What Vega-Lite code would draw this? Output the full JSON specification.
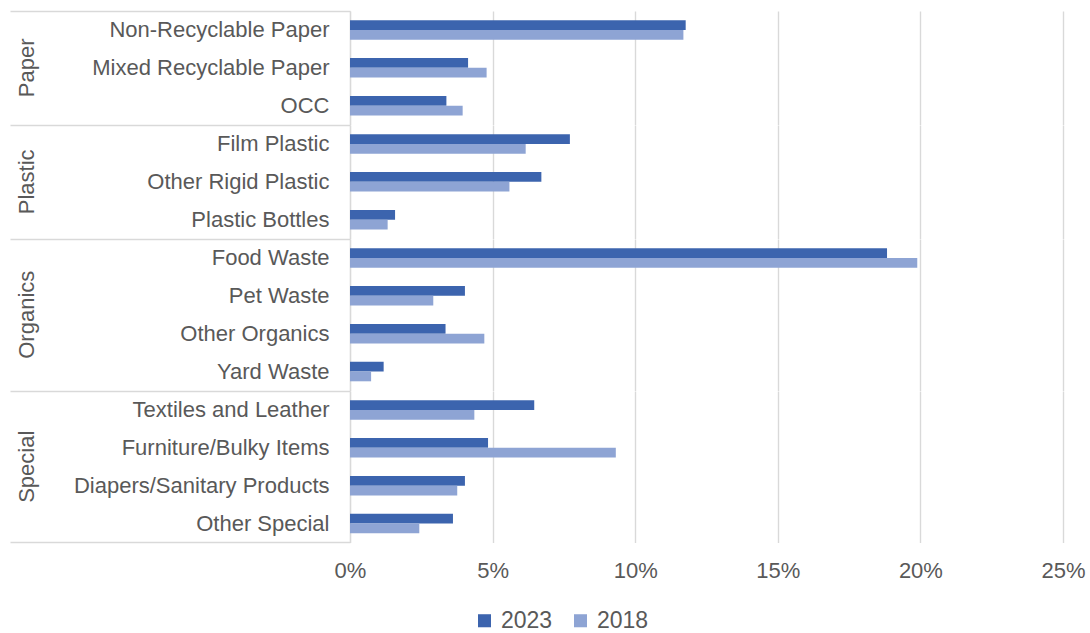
{
  "$schema": "https://vega.github.io/schema/vega-lite/v6.json",
  "padding": {"left": 9, "top": 0, "right": 5, "bottom": 5},
  "background": "white",
  "config": {"view": {"stroke": null}, "font": "Liberation Sans"},
  "data": {"values": [
    {"group": "Paper", "category": "Non-Recyclable Paper", "year": "2023", "value": 11.77},
    {"group": "Paper", "category": "Non-Recyclable Paper", "year": "2018", "value": 11.69},
    {"group": "Paper", "category": "Mixed Recyclable Paper", "year": "2023", "value": 4.14},
    {"group": "Paper", "category": "Mixed Recyclable Paper", "year": "2018", "value": 4.79},
    {"group": "Paper", "category": "OCC", "year": "2023", "value": 3.38},
    {"group": "Paper", "category": "OCC", "year": "2018", "value": 3.95},
    {"group": "Plastic", "category": "Film Plastic", "year": "2023", "value": 7.71},
    {"group": "Plastic", "category": "Film Plastic", "year": "2018", "value": 6.16},
    {"group": "Plastic", "category": "Other Rigid Plastic", "year": "2023", "value": 6.71},
    {"group": "Plastic", "category": "Other Rigid Plastic", "year": "2018", "value": 5.59},
    {"group": "Plastic", "category": "Plastic Bottles", "year": "2023", "value": 1.58},
    {"group": "Plastic", "category": "Plastic Bottles", "year": "2018", "value": 1.32},
    {"group": "Organics", "category": "Food Waste", "year": "2023", "value": 18.83},
    {"group": "Organics", "category": "Food Waste", "year": "2018", "value": 19.89},
    {"group": "Organics", "category": "Pet Waste", "year": "2023", "value": 4.03},
    {"group": "Organics", "category": "Pet Waste", "year": "2018", "value": 2.92},
    {"group": "Organics", "category": "Other Organics", "year": "2023", "value": 3.35},
    {"group": "Organics", "category": "Other Organics", "year": "2018", "value": 4.71},
    {"group": "Organics", "category": "Yard Waste", "year": "2023", "value": 1.18},
    {"group": "Organics", "category": "Yard Waste", "year": "2018", "value": 0.74},
    {"group": "Special", "category": "Textiles and Leather", "year": "2023", "value": 6.46},
    {"group": "Special", "category": "Textiles and Leather", "year": "2018", "value": 4.36},
    {"group": "Special", "category": "Furniture/Bulky Items", "year": "2023", "value": 4.84},
    {"group": "Special", "category": "Furniture/Bulky Items", "year": "2018", "value": 9.32},
    {"group": "Special", "category": "Diapers/Sanitary Products", "year": "2023", "value": 4.03},
    {"group": "Special", "category": "Diapers/Sanitary Products", "year": "2018", "value": 3.76},
    {"group": "Special", "category": "Other Special", "year": "2023", "value": 3.61},
    {"group": "Special", "category": "Other Special", "year": "2018", "value": 2.43}
  ]},
  "facet": {
    "row": {
      "field": "group", "type": "nominal",
      "sort": ["Paper", "Plastic", "Organics", "Special"],
      "title": null,
      "header": {
        "labelAngle": -90, "labelOrient": "left", "labelAlign": "center",
        "labelFont": "Liberation Sans", "labelFontSize": 22, "labelColor": "#595959",
        "labelPadding": 301
      }
    }
  },
  "spacing": 0,
  "bounds": "flush",
  "resolve": {"scale": {"y": "independent"}},
  "spec": {
    "width": 713,
    "height": {"step": 9.76},
    "mark": {"type": "bar"},
    "encoding": {
      "y": {
        "field": "category", "type": "nominal",
        "sort": ["Non-Recyclable Paper", "Mixed Recyclable Paper", "OCC", "Film Plastic", "Other Rigid Plastic", "Plastic Bottles", "Food Waste", "Pet Waste", "Other Organics", "Yard Waste", "Textiles and Leather", "Furniture/Bulky Items", "Diapers/Sanitary Products", "Other Special"],
        "scale": {"paddingInner": 0, "paddingOuter": 0},
        "axis": {
          "title": null, "tickBand": "extent", "ticks": true, "tickSize": 340,
          "tickColor": "#d9d9d9", "tickWidth": 1.3,
          "tickOpacity": {"condition": {"test": "!datum.value || datum.value === 'Other Special'", "value": 1}, "value": 0},
          "labelPadding": -319, "labelLimit": 400, "labelFont": "Liberation Sans", "labelFontSize": 22, "labelColor": "#595959",
          "domainColor": "#d9d9d9", "domainWidth": 1.3
        }
      },
      "x": {
        "field": "value", "type": "quantitative",
        "scale": {"domain": [0, 25]},
        "axis": {
          "values": [0, 5, 10, 15, 20, 25], "labelExpr": "datum.value + '%'",
          "title": null, "ticks": false, "domain": false, "labelFlush": false,
          "gridColor": "#d9d9d9", "gridWidth": 1.4,
          "labelPadding": 17, "labelFont": "Liberation Sans", "labelFontSize": 22, "labelColor": "#595959"
        }
      },
      "yOffset": {"field": "year", "type": "nominal", "sort": ["2023", "2018"], "scale": {"paddingOuter": 0.94, "paddingInner": 0}},
      "color": {
        "field": "year", "type": "nominal",
        "scale": {"domain": ["2023", "2018"], "range": ["#3C64AE", "#8EA4D4"]},
        "legend": {
          "title": null, "orient": "none", "legendX": 123, "legendY": 598, "direction": "horizontal",
          "symbolType": "square", "symbolSize": 170, "symbolStrokeWidth": 0, "symbolOffset": 0,
          "labelFont": "Liberation Sans", "labelFontSize": 23, "labelColor": "#595959", "labelOffset": 5,
          "columnPadding": 16
        }
      }
    }
  }
}
